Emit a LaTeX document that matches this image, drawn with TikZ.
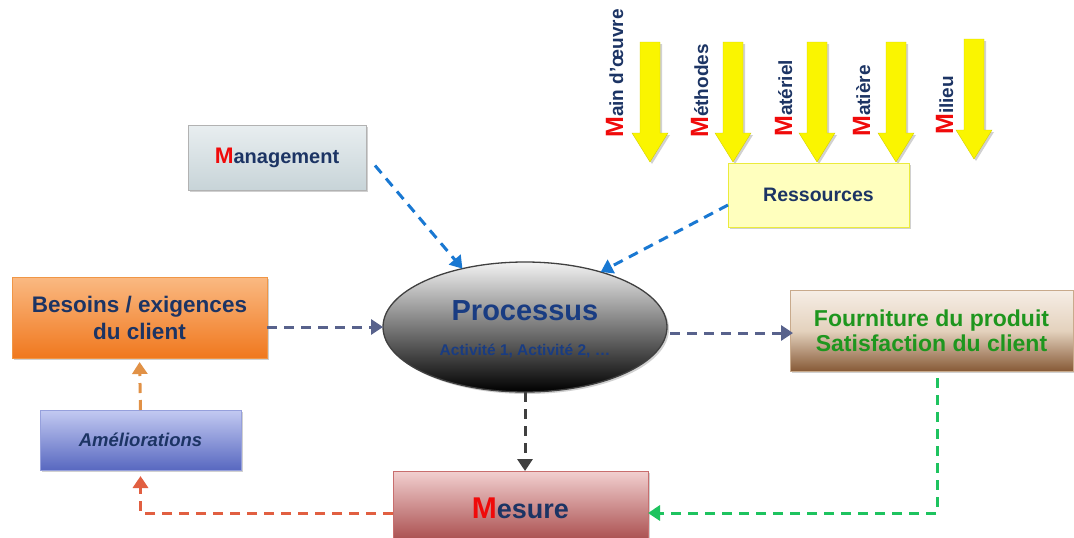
\documentclass[tikz,border=0pt]{standalone}
\usepackage{fontspec}
\setmainfont{Liberation Sans}
\usetikzlibrary{arrows.meta,shadows,calc,shapes.geometric}
\definecolor{txtblue}{RGB}{28,52,100}
\definecolor{procblue}{RGB}{25,60,130}
\definecolor{mred}{RGB}{240,10,10}
\definecolor{fgreen}{RGB}{30,150,30}
\definecolor{lblue}{RGB}{25,120,210}
\definecolor{lgrayblue}{RGB}{88,98,140}
\definecolor{lgreen}{RGB}{30,195,95}
\definecolor{lorangered}{RGB}{225,95,65}
\definecolor{lorange}{RGB}{225,145,70}
\definecolor{ayellow}{RGB}{250,245,0}
\begin{document}
\begin{tikzpicture}[x=1pt,y=-1pt,
  boxstyle/.style={rectangle, draw, inner sep=0pt, outer sep=0pt, align=center, font=\bfseries,
    drop shadow={shadow xshift=2pt, shadow yshift=-2pt, opacity=0.3, fill=black!60}},
  conn/.style={line width=3pt, dash pattern=on 10pt off 7pt, -{Triangle[width=15pt,length=12pt]}},
  vlab/.style={rotate=90, anchor=base west, inner sep=0pt, font=\bfseries\fontsize{19}{18}\selectfont, text=txtblue},
  arrowfill/.style={fill=ayellow, draw=ayellow!85!black, line width=0.4pt},
  arrowshadow/.style={fill=black, opacity=0.18}
]
\useasboundingbox (0,0) rectangle (1074,538);
\clip (0,0) rectangle (1074,538);
\fill[white] (0,0) rectangle (1074,538);

% yellow arrows
\newcommand\yarr[4]{%
  \fill[arrowshadow] ({#1-10+2},{#2+2}) -- ({#1+10+2},{#2+2}) -- ({#1+10+2},{#3+2}) -- ({#1+18+2},{#3+2}) -- ({#1+2},{#4+2}) -- ({#1-18+2},{#3+2}) -- ({#1-10+2},{#3+2}) -- cycle;
  \filldraw[arrowfill] ({#1-10},#2) -- ({#1+10},#2) -- ({#1+10},#3) -- ({#1+18},#3) -- (#1,#4) -- ({#1-18},#3) -- ({#1-10},#3) -- cycle;}
\yarr{650}{42}{133}{162}
\yarr{733}{42}{133}{162}
\yarr{817}{42}{133}{162}
\yarr{896}{42}{133}{162}
\yarr{974}{39}{130}{159}

% vertical labels
\node[vlab] (l1) at (623,138) {\textcolor{mred}{\fontsize{25}{25}\selectfont M}ain d’œuvre};
\node[vlab] (l2) at (708,138) {\textcolor{mred}{\fontsize{25}{25}\selectfont M}éthodes};
\node[vlab] (l3) at (792,137) {\textcolor{mred}{\fontsize{25}{25}\selectfont M}atériel};
\node[vlab] (l4) at (870,137) {\textcolor{mred}{\fontsize{25}{25}\selectfont M}atière};
\node[vlab] (l5) at (953,135) {\textcolor{mred}{\fontsize{25}{25}\selectfont M}ilieu};

% boxes
\node[boxstyle, minimum width=178pt, minimum height=65pt, draw=gray!60,
  top color={rgb,255:red,232;green,238;blue,240}, bottom color={rgb,255:red,200;green,212;blue,216},
  text=txtblue, font=\bfseries\fontsize{20}{22}\selectfont] (mgmt) at (277,157.5)
  {\textcolor{mred}{\fontsize{22.5}{22}\selectfont M}anagement};

\node[boxstyle, minimum width=181pt, minimum height=64pt, draw={rgb,255:red,235;green,235;blue,60}, line width=1pt,
  fill={rgb,255:red,255;green,255;blue,190},
  text=txtblue, font=\bfseries\fontsize{19.5}{22}\selectfont] (res) at (818.5,195) {Ressources};

\node[boxstyle, minimum width=255pt, minimum height=81pt, draw={rgb,255:red,240;green,150;blue,70},
  top color={rgb,255:red,250;green,185;blue,130}, bottom color={rgb,255:red,240;green,120;blue,30},
  text=txtblue, font=\bfseries\fontsize{22.5}{27}\selectfont] (bes) at (139.5,317.5)
  {Besoins / exigences\\du client};

\node[boxstyle, minimum width=201pt, minimum height=60pt, draw={rgb,255:red,150;green,160;blue,220},
  top color={rgb,255:red,195;green,202;blue,242}, bottom color={rgb,255:red,88;green,104;blue,192},
  text=txtblue, font=\bfseries\itshape\fontsize{18.5}{22}\selectfont] (amel) at (140.5,440) {Améliorations};

\node[boxstyle, minimum width=283pt, minimum height=81pt, draw={rgb,255:red,200;green,170;blue,140},
  top color={rgb,255:red,246;green,238;blue,230}, bottom color={rgb,255:red,135;green,90;blue,55},
  middle color={rgb,255:red,228;green,210;blue,190},
  text=fgreen, font=\bfseries\fontsize{23}{25}\selectfont] (four) at (931.5,330.5)
  {Fourniture du produit\\Satisfaction du client};

\node[boxstyle, minimum width=255pt, minimum height=74pt, draw={rgb,255:red,200;green,110;blue,110},
  top color={rgb,255:red,242;green,208;blue,208}, bottom color={rgb,255:red,165;green,70;blue,70},
  text=txtblue, font=\bfseries\fontsize{27}{30}\selectfont] (mes) at (520.5,508)
  {\textcolor{mred}{\fontsize{30}{30}\selectfont M}esure};

% process ellipse
\node[ellipse, draw=black!75, line width=1.3pt, inner sep=0pt, outer sep=0pt,
  minimum width=284pt, minimum height=130pt,
  top color=gray!10, bottom color=black,
  drop shadow={shadow xshift=2pt, shadow yshift=-2pt, opacity=0.3, fill=black!60}] (proc) at (525,327) {};
\node[text=procblue, font=\bfseries\fontsize{29}{30}\selectfont] (ptitle) at (525,311) {Processus};
\node[text=procblue, font=\bfseries\fontsize{15.5}{16}\selectfont] (psub) at (525,351) {Activité 1, Activité 2, …};

% connectors
\draw[conn, draw=lblue] ([shift={(9,8)}]mgmt.east) -- (proc.137);
\draw[conn, draw=lblue] ([shift={(0,10)}]res.west) -- (proc.36);
\draw[conn, draw=lgrayblue] (bes.east |- proc.west) -- (proc.west);
\draw[conn, draw=lgrayblue] ([shift={(3,6)}]proc.east) -- ([shift={(3,6)}]proc.east -| four.west);
\draw[conn, draw=black!75] (proc.south) -- (proc.south |- mes.north);
\draw[conn, draw=lgreen] ([shift={(5.5,7)}]four.south) |- ([shift={(0,5)}]mes.east);
\draw[conn, draw=lorangered, shorten >=6pt] ([shift={(0,5)}]mes.west) -| (amel.south);
\draw[conn, draw=lorange, shorten >=4pt] (amel.north) -- (bes.south);
\end{tikzpicture}
\end{document}
